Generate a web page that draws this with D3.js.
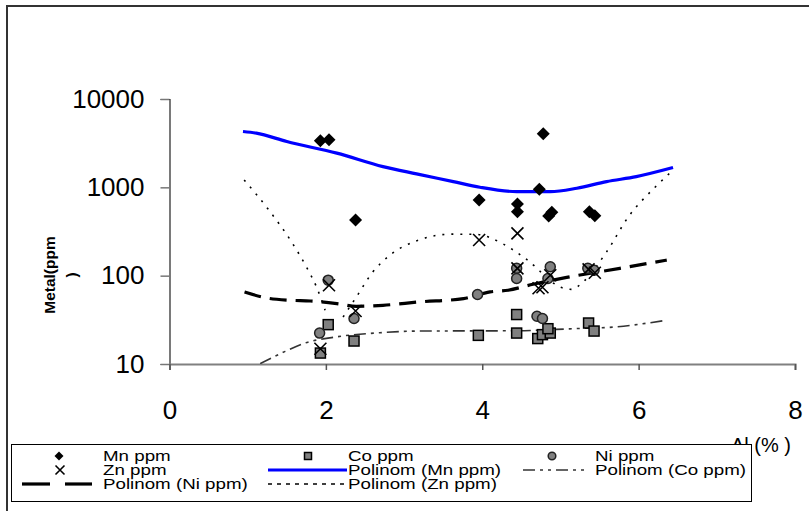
<!DOCTYPE html>
<html>
<head>
<meta charset="utf-8">
<script src="https://cdn.jsdelivr.net/npm/d3@7"></script>
<style>
  html, body { margin: 0; padding: 0; background: #fff; }
  svg { display: block; font-family: Arial, "Liberation Sans", sans-serif; }
</style>
</head>
<body>
<svg id="chart" width="809" height="511"></svg>
<script>
// ---------- DATA ----------
const xTicks = [0, 2, 4, 6, 8];
const yTicks = [10, 100, 1000, 10000];

// scatter series: [Al %, ppm]
const mnPoints = [[1.93, 3360], [2.04, 3450], [2.38, 427], [3.96, 719], [4.45, 648], [4.45, 530],
  [4.78, 4040], [4.73, 951], [4.85, 473], [4.89, 521], [5.37, 530], [5.44, 478]];
const coPoints = [[1.93, 13.3], [2.03, 27.9], [2.36, 18.2], [3.95, 21.1], [4.44, 36.3], [4.44, 22.4],
  [4.71, 19.4], [4.77, 21.5], [4.87, 22.4], [4.84, 25.1], [5.36, 29.1], [5.43, 23.6]];
const niPoints = [[2.03, 88.9], [1.92, 22.4], [2.36, 32.7], [3.94, 61.2], [4.44, 121], [4.44, 92.9],
  [4.87, 126], [4.84, 93], [4.70, 34.7], [4.77, 32.7], [5.35, 121], [5.43, 115]];
const znPoints = [[2.04, 78], [1.93, 14.9], [2.38, 39.8], [3.96, 253], [4.45, 301], [4.45, 121],
  [4.72, 72], [4.77, 74], [4.87, 101], [5.44, 108], [5.36, 118]];

// polynomial trend lines
const mnTrend = [[0.94, 4290], [1.11, 4110], [1.50, 3300], [2.14, 2440], [2.73, 1718], [3.16, 1419],
  [3.63, 1161], [3.97, 1002], [4.44, 893], [4.87, 893], [5.21, 977], [5.59, 1161], [5.97, 1322], [6.44, 1674]];
const coTrend = [[1.16, 10.1], [1.48, 13.9], [1.71, 17.0], [2.12, 20.2], [2.69, 22.6], [3.19, 23.6],
  [4.44, 23.8], [5.16, 25.1], [5.68, 26.2], [6.36, 31.3]];
const niTrend = [[0.96, 65.5], [1.24, 56], [1.54, 52.7], [1.80, 51.7], [2.14, 48.3], [2.39, 45],
  [2.73, 46.2], [3.20, 50.5], [3.76, 55], [4.10, 65.5], [4.33, 68.4], [4.65, 80], [5.08, 95.5],
  [5.76, 121], [6.36, 150]];
const znTrendA = [[0.955, 1213], [1.27, 554], [1.56, 242], [1.75, 126], [1.88, 74.6], [1.99, 40.6]];
const znTrendB = [[2.22, 34], [2.39, 57.4], [2.60, 110], [2.82, 171], [3.19, 253], [3.60, 295],
  [3.91, 294], [4.27, 228], [4.55, 157], [5.04, 72], [5.14, 70], [5.29, 85], [5.59, 186],
  [5.87, 465], [6.21, 1003], [6.42, 1507]];

const legendRows = [
  ["Mn ppm", "Co ppm", "Ni ppm"],
  ["Zn ppm", "Polinom (Mn ppm)", "Polinom (Co ppm)"],
  ["Polinom (Ni ppm)", "Polinom (Zn ppm)"]
];

// ---------- CHART ----------
const svg = d3.select("#chart");
const x = d3.scaleLinear().domain([0, 8]).range([169.5, 795]);
const y = d3.scaleLog().domain([10, 10000]).range([364, 99]);

// outer border (top + left visible)
svg.append("path").attr("d", "M7,511 V6 H809")
  .attr("fill", "none").attr("stroke", "#333").attr("stroke-width", 2);

// clip
svg.append("clipPath").attr("id", "clip").append("rect")
  .attr("x", 160).attr("y", 90).attr("width", 640).attr("height", 274);

// Y axis
const yAxis = svg.append("g").attr("transform", "translate(169.5,0)")
  .call(d3.axisLeft(y).tickValues(yTicks).tickFormat(d3.format("d")).tickSizeOuter(0).tickSize(9).tickPadding(16));
yAxis.select(".domain").attr("stroke", "#222").attr("stroke-width", 1.2);
yAxis.selectAll(".tick line").attr("stroke", "#777").attr("stroke-width", 1.5);
yAxis.selectAll(".tick text").attr("font-size", 26).attr("fill", "#000")
  .attr("font-family", "Arial, 'Liberation Sans', sans-serif");

// X axis
const xAxis = svg.append("g").attr("transform", "translate(0,364)")
  .call(d3.axisBottom(x).tickValues(xTicks).tickFormat(d3.format("d")).tickSizeOuter(0).tickSize(6).tickPadding(31));
xAxis.select(".domain").attr("stroke", "#808080").attr("stroke-width", 2);
xAxis.selectAll(".tick line").attr("stroke", "#555").attr("stroke-width", 1.5);
xAxis.selectAll(".tick text").attr("font-size", 26).attr("fill", "#000")
  .attr("font-family", "Arial, 'Liberation Sans', sans-serif");

// axis titles
const yt = svg.append("text").attr("transform", "translate(55,275) rotate(-90)")
  .attr("text-anchor", "middle").attr("font-size", 15.5).attr("font-weight", "bold");
yt.append("tspan").attr("x", 0).attr("dy", 0).text("Metal(ppm");
yt.append("tspan").attr("x", 0).attr("dy", 22).text(")");

svg.append("text").attr("x", 731).attr("y", 452).attr("font-size", 20).text("Al (% )");

// lines
const line = d3.line().x(d => x(d[0])).y(d => y(d[1])).curve(d3.curveMonotoneX);
const plot = svg.append("g").attr("clip-path", "url(#clip)");

const styles = {
  mn: { stroke: "#0000ff", width: 3.2, dash: null },
  co: { stroke: "#333", width: 1.6, dash: "12,5,3,5,3,5" },
  ni: { stroke: "#000", width: 3.2, dash: "17,9" },
  zn: { stroke: "#000", width: 1.6, dash: "2,7" }
};
function drawLine(data, s) {
  plot.append("path").datum(data).attr("d", line).attr("fill", "none")
    .attr("stroke", s.stroke).attr("stroke-width", s.width)
    .attr("stroke-dasharray", s.dash);
}
drawLine(znTrendA, styles.zn);
drawLine(znTrendB, styles.zn);
drawLine(coTrend, styles.co);
drawLine(niTrend, styles.ni);
drawLine(mnTrend, styles.mn);

// markers
function diamond(g, cx, cy, r) {
  g.append("path").attr("d", `M${cx},${cy - r} L${cx + r},${cy} L${cx},${cy + r} L${cx - r},${cy} Z`)
    .attr("fill", "#000");
}
function square(g, cx, cy, r) {
  g.append("rect").attr("x", cx - r).attr("y", cy - r).attr("width", 2 * r).attr("height", 2 * r)
    .attr("fill", "#808080").attr("stroke", "#000").attr("stroke-width", 1.5);
}
function circle(g, cx, cy, r) {
  g.append("circle").attr("cx", cx).attr("cy", cy).attr("r", r)
    .attr("fill", "#808080").attr("stroke", "#222").attr("stroke-width", 1.5);
}
function cross(g, cx, cy, r) {
  g.append("path").attr("d", `M${cx - r},${cy - r} L${cx + r},${cy + r} M${cx - r},${cy + r} L${cx + r},${cy - r}`)
    .attr("stroke", "#000").attr("stroke-width", 1.6).attr("fill", "none");
}
const mk = svg.append("g");
mnPoints.forEach(d => diamond(mk, x(d[0]), y(d[1]), 6.5));
coPoints.forEach(d => square(mk, x(d[0]), y(d[1]), 5));
niPoints.forEach(d => circle(mk, x(d[0]), y(d[1]), 5));
znPoints.forEach(d => cross(mk, x(d[0]), y(d[1]), 6));

// legend
const lg = svg.append("g");
lg.append("rect").attr("x", 11.5).attr("y", 444.5).attr("width", 740).attr("height", 57)
  .attr("fill", "#fff").attr("stroke", "#000").attr("stroke-width", 1);
const colText = [103, 348, 595];
const rowBase = [461, 475, 489];
const stretch = 1.25;
legendRows.forEach((row, ri) => row.forEach((t, ci) => {
  lg.append("text").attr("transform", `translate(${colText[ci]},${rowBase[ri]}) scale(${stretch},1)`)
    .attr("font-size", 15).text(t);
}));
const symY = r => rowBase[r] - 5;
diamond(lg, 59, symY(0), 4.5);
square(lg, 308, symY(0), 3.5);
circle(lg, 552, symY(0), 3.8);
cross(lg, 60, symY(1), 4.5);
function legLine(x1, x2, yy, s) {
  lg.append("line").attr("x1", x1).attr("x2", x2).attr("y1", yy).attr("y2", yy)
    .attr("stroke", s.stroke).attr("stroke-width", s.width).attr("stroke-dasharray", s.dash);
}
legLine(268, 347, symY(1), styles.mn);
legLine(523, 587, symY(1), styles.co);
lg.append("line").attr("x1", 22).attr("x2", 50).attr("y1", symY(2)).attr("y2", symY(2))
  .attr("stroke", "#000").attr("stroke-width", 3.2);
lg.append("line").attr("x1", 65).attr("x2", 92).attr("y1", symY(2)).attr("y2", symY(2))
  .attr("stroke", "#000").attr("stroke-width", 3.2);
legLine(268, 347, symY(2), { stroke: "#000", width: 1.4, dash: "4,5" });
</script>
</body>
</html>
